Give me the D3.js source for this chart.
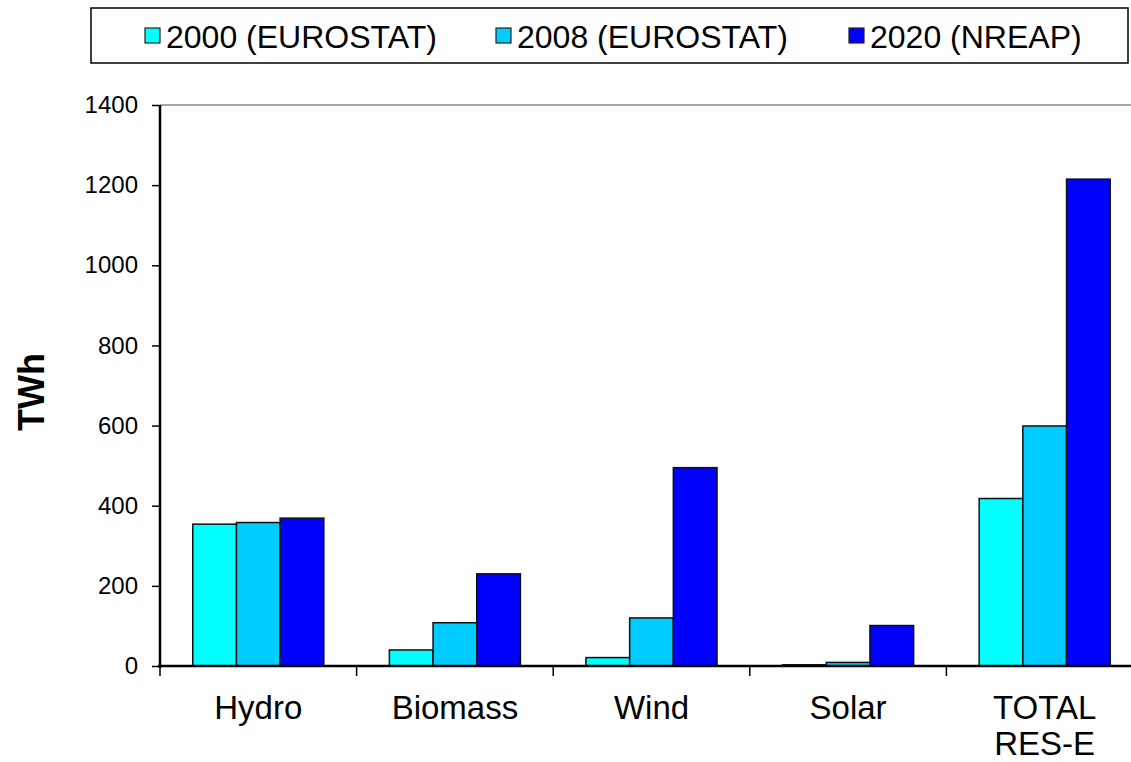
<!DOCTYPE html>
<html>
<head>
<meta charset="utf-8">
<script src="https://cdn.jsdelivr.net/npm/d3@7"></script>
<style>
  body { margin: 0; background: #fff; }
  svg { display: block; font-family: "Liberation Sans", Arial, sans-serif; }
</style>
</head>
<body>
<svg id="chart" width="1131" height="762"></svg>
<script>
const categories = ["Hydro", "Biomass", "Wind", "Solar", "TOTAL\nRES-E"];
const seriesNames = ["2000 (EUROSTAT)", "2008 (EUROSTAT)", "2020 (NREAP)"];
const seriesColors = ["#00ffff", "#00ccff", "#0000ff"];
const values2000 = [354, 40, 21, 3, 418];
const values2008 = [358, 108, 120, 9, 599];
const values2020 = [369, 230, 495, 101, 1215];
const yTicks = [0, 200, 400, 600, 800, 1000, 1200, 1400];

const seriesValues = [values2000, values2008, values2020];

const svg = d3.select("#chart");
const plotLeft = 160, plotRight = 1143, plotTop = 105, plotBottom = 666;

const x = d3.scaleBand().domain(categories).range([plotLeft, plotRight]).padding(0);
const x1 = d3.scaleBand().domain(seriesNames)
    .range([x.bandwidth() / 6, x.bandwidth() * 5 / 6]).padding(0);
const y = d3.scaleLinear().domain([0, 1400]).range([plotBottom, plotTop]);

// plot area top border
svg.append("line")
    .attr("x1", plotLeft).attr("x2", 1131)
    .attr("y1", plotTop).attr("y2", plotTop)
    .attr("stroke", "#888").attr("stroke-width", 1.5);

// bars
categories.forEach((c, i) => {
    const g = svg.append("g").attr("transform", `translate(${x(c)},0)`);
    seriesNames.forEach((s, j) => {
        const v = seriesValues[j][i];
        g.append("rect")
            .attr("x", x1(s))
            .attr("y", y(v))
            .attr("width", x1.bandwidth())
            .attr("height", y(0) - y(v))
            .attr("fill", seriesColors[j])
            .attr("stroke", "#111")
            .attr("stroke-width", 1.5);
    });
});

// y axis
const yAxis = svg.append("g")
    .attr("transform", `translate(${plotLeft},0)`)
    .call(d3.axisLeft(y).tickValues(yTicks).tickFormat(d3.format("d")).tickSize(8).tickPadding(14));
yAxis.select(".domain").attr("stroke", "#000").attr("stroke-width", 2.5)
    .attr("d", `M0,${plotTop}V${plotBottom + 2}`);
yAxis.selectAll(".tick line").attr("stroke", "#000").attr("stroke-width", 1.5);
yAxis.selectAll(".tick text").attr("font-size", 24).attr("fill", "#000")
    .attr("font-family", "Liberation Sans, Arial, sans-serif");

// x axis
const boundaries = categories.map(c => x(c)).concat([plotRight]);
const xAxis = svg.append("g");
xAxis.append("line")
    .attr("x1", plotLeft - 2).attr("x2", 1131)
    .attr("y1", plotBottom).attr("y2", plotBottom)
    .attr("stroke", "#000").attr("stroke-width", 2.5);
xAxis.selectAll(".xtick").data(boundaries).join("line")
    .attr("class", "xtick")
    .attr("x1", d => d).attr("x2", d => d)
    .attr("y1", plotBottom).attr("y2", plotBottom + 10)
    .attr("stroke", "#000").attr("stroke-width", 1.5);

const labels = xAxis.selectAll(".xlabel").data(categories).join("text")
    .attr("class", "xlabel")
    .attr("x", d => x(d) + x.bandwidth() / 2)
    .attr("y", 719)
    .attr("text-anchor", "middle")
    .attr("font-size", 33)
    .attr("fill", "#000");
labels.each(function(d) {
    const t = d3.select(this);
    d.split("\n").forEach((line, k) => {
        t.append("tspan")
            .attr("x", x(d) + x.bandwidth() / 2)
            .attr("dy", k === 0 ? 0 : 36)
            .text(line);
    });
});

// y title
svg.append("text")
    .attr("transform", "translate(44,392) rotate(-90)")
    .attr("text-anchor", "middle")
    .attr("font-size", 36)
    .attr("font-weight", "bold")
    .attr("fill", "#000")
    .text("TWh");

// legend
svg.append("rect")
    .attr("x", 91).attr("y", 8)
    .attr("width", 1037).attr("height", 55)
    .attr("fill", "#fff").attr("stroke", "#000").attr("stroke-width", 1.5);
const legendX = [145, 496, 849];
seriesNames.forEach((s, j) => {
    const g = svg.append("g").attr("transform", `translate(${legendX[j]},0)`);
    g.append("rect")
        .attr("x", 0).attr("y", 28)
        .attr("width", 15).attr("height", 15)
        .attr("fill", seriesColors[j])
        .attr("stroke", "#222").attr("stroke-width", 1.2);
    g.append("text")
        .attr("x", 21).attr("y", 48)
        .attr("font-size", 32)
        .attr("fill", "#000")
        .text(s);
});
</script>
</body>
</html>
